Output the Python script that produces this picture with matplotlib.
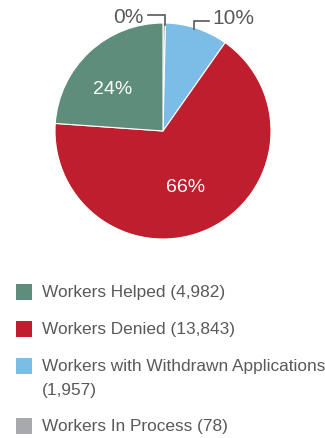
import matplotlib.pyplot as plt
import numpy as np
from matplotlib.patches import Rectangle

GREEN = "#5f8d7b"
RED = "#be1e2d"
BLUE = "#7bbde7"
GREY = "#a7a9ac"
TEXT = "#58595b"

# pie order, clockwise from twelve o'clock
slice_names = ["In Process", "Withdrawn", "Denied", "Helped"]
slice_counts = [78, 1957, 13843, 4982]
slice_labels = ["0%", "10%", "66%", "24%"]
slice_colors = [GREY, BLUE, RED, GREEN]

legend_labels = [
    ["Workers Helped (4,982)"],
    ["Workers Denied (13,843)"],
    ["Workers with Withdrawn Applications", "(1,957)"],
    ["Workers In Process (78)"],
]
legend_colors = [GREEN, RED, BLUE, GREY]

W, H = 325, 439
plt.rcParams["font.family"] = ["Liberation Sans", "DejaVu Sans"]

fig = plt.figure(figsize=(W / 100, H / 100), dpi=100)
ax = fig.add_axes([0, 0, 1, 1])

cx, cy, radius = 163, H - 132, 108
wedges, _ = ax.pie(
    slice_counts,
    colors=slice_colors,
    startangle=90,
    counterclock=False,
    center=(cx, cy),
    radius=radius,
    wedgeprops=dict(edgecolor="white", linewidth=0.8),
    frame=True,
)
ax.set_xlim(0, W)
ax.set_ylim(0, H)
ax.set_aspect("equal")
ax.axis("off")


def mid_angle(wedge, shift=0.0):
    return np.deg2rad((wedge.theta1 + wedge.theta2) / 2 + shift)


# labels inside the two big slices
for idx, frac, shift in ((2, 0.55, -3.5), (3, 0.61, 7.0)):
    a = mid_angle(wedges[idx], shift)
    ax.text(cx + frac * radius * np.cos(a), cy + frac * radius * np.sin(a),
            slice_labels[idx], color="white", fontsize=14, ha="center", va="center")

# bracket leaders for the two thin slices
a = mid_angle(wedges[0])
x0 = cx + radius * np.cos(a) + 0.5
y0 = cy + radius * np.sin(a) - 2
ax.plot([x0, x0, x0 - 17], [y0, H - 16, H - 16], color=TEXT, lw=1.2, solid_joinstyle="miter")
ax.text(x0 - 21, H - 17, slice_labels[0], color=TEXT, fontsize=15, ha="right", va="center")

a = mid_angle(wedges[1])
x1 = cx + radius * np.cos(a) - 3
y1 = cy + radius * np.sin(a) - 1
ax.plot([x1, x1, x1 + 15], [y1, H - 22, H - 22], color=TEXT, lw=1.2, solid_joinstyle="miter")
ax.text(x1 + 19, H - 18, slice_labels[1], color=TEXT, fontsize=15, ha="left", va="center")

# legend
row_y = [293, 329.5, 367, 427]
line_step = 24
for lines, color, py in zip(legend_labels, legend_colors, row_y):
    ax.add_patch(Rectangle((16, H - py - 8), 16, 16, facecolor=color, edgecolor="none"))
    for k, line in enumerate(lines):
        ax.text(42, H - py - k * line_step, line, color=TEXT, fontsize=12.4,
                ha="left", va="center")

fig.savefig("out.png", dpi=100, facecolor="white")
